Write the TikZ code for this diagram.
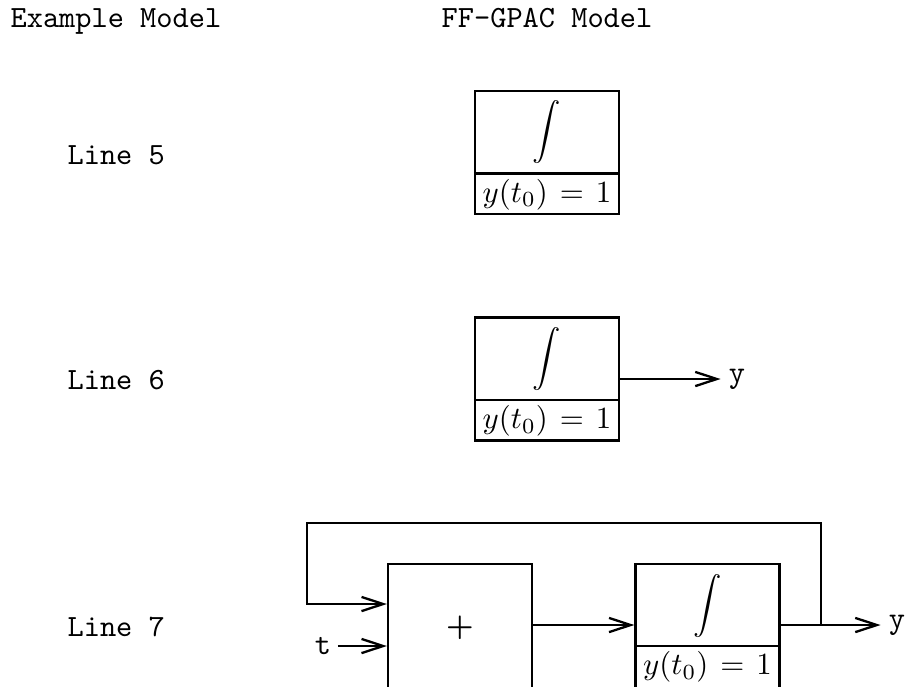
\documentclass[tikz,border=0pt]{standalone}
\usepackage{graphicx}
\usetikzlibrary{arrows.meta,calc}
\begin{document}
\begin{tikzpicture}[x=0.324pt,y=-0.324pt,
  blk/.style={draw,line width=0.75pt,minimum width=46.66pt,minimum height=39.85pt,inner sep=0pt},
  tallblk/.style={blk,minimum height=41.5pt},
  lbl/.style={font=\ttfamily,inner sep=0pt},
  arr/.style={line width=0.75pt,-{Straight Barb[length=7pt,width=4.6pt,line width=0.75pt]}},
  ln/.style={line width=0.75pt},
  intsym/.style={inner sep=0pt},
  icond/.style={inner sep=0pt}]
\useasboundingbox (0,0) rectangle (906,686);
\clip (0,0) rectangle (906,686);
% headers
\node[lbl,anchor=base west] (h1) at (10,27) {Example Model};
\node[lbl,anchor=base] (h2) at (547,27) {FF-GPAC Model};
\node[lbl,anchor=base west] (l5) at (67,164) {Line 5};
\node[lbl,anchor=base west] (l6) at (67,389) {Line 6};
\node[lbl,anchor=base west] (l7) at (67,636) {Line 7};
% integrator 1
\node[blk] (B1) at (547,152.5) {};
\draw[ln] ($(B1.north west)!0.667!(B1.south west)$) -- ($(B1.north east)!0.667!(B1.south east)$);
\node[intsym] (s1) at ($(B1.north)!0.34!(B1.south)$) {\scalebox{0.92}{$\displaystyle\int$}};
\node[icond] (c1) at ($(B1.north)!0.835!(B1.south)$) {$y(t_0)\mskip2mu=\mskip2mu1$};
% integrator 2
\node[blk] (B2) at (547,379) {};
\draw[ln] ($(B2.north west)!0.667!(B2.south west)$) -- ($(B2.north east)!0.667!(B2.south east)$);
\node[intsym] (s2) at ($(B2.north)!0.34!(B2.south)$) {\scalebox{0.92}{$\displaystyle\int$}};
\node[icond] (c2) at ($(B2.north)!0.835!(B2.south)$) {$y(t_0)\mskip2mu=\mskip2mu1$};
\node[lbl,inner sep=2.5pt] (y2) at (737,379) {y};
\draw[arr] (B2.east) -- (y2.west);
% line 7
\node[tallblk] (P) at (460,628) {};
\node[inner sep=0pt] (ps) at (460,628) {\textbf{+}};
\node[tallblk] (B3) at (707.5,628) {};
\draw[ln] ($(B3.north west)!0.64!(B3.south west)$) -- ($(B3.north east)!0.64!(B3.south east)$);
\node[intsym] (s3) at ($(B3.north)!0.33!(B3.south)$) {\scalebox{0.92}{$\displaystyle\int$}};
\node[icond] (c3) at ($(B3.north)!0.80!(B3.south)$) {$y(t_0)\mskip2mu=\mskip2mu1$};
\node[lbl,inner sep=2.5pt] (y3) at (897,625) {y};
\node[lbl,inner sep=2pt] (t) at (323,646) {t};
\coordinate (j) at (821,625);
\draw[arr] (P.east |- y3.west) -- (B3.west |- y3.west);
\draw[arr] (B3.east |- y3.west) -- (y3.west);
\draw[arr] (j) |- (307,523) |- (P.west |- 0,604);
\draw[arr] (t.east) -- (P.west |- t.east);
\end{tikzpicture}
\end{document}
